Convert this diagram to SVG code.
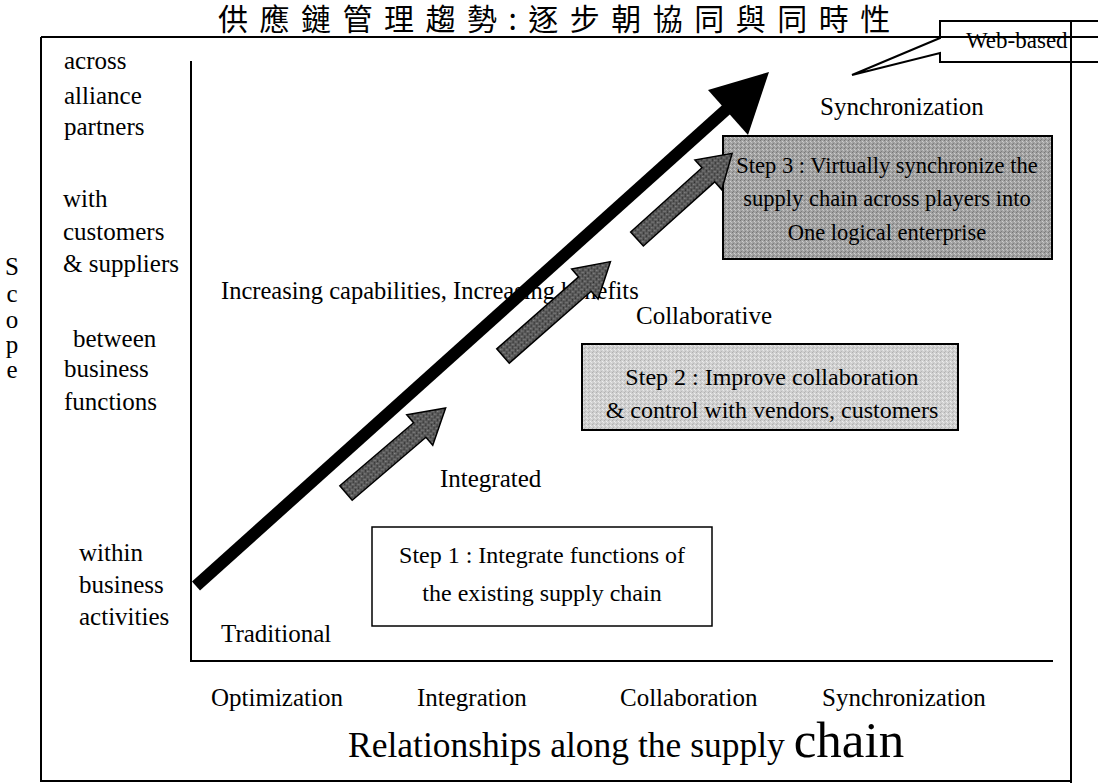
<svg xmlns="http://www.w3.org/2000/svg" width="1098" height="783" viewBox="0 0 1098 783">
<style>
.t{font-family:"Liberation Serif","Times New Roman",serif;font-size:25px;fill:#000}
.b{font-size:24px}
.s3{font-size:22.5px}
.ln{fill:none;stroke:#000;stroke-width:2}
.garrow{stroke:#000;stroke-width:1.5;fill:url(#dk)}
</style>
<defs>
<pattern id="dk" width="4" height="4" patternUnits="userSpaceOnUse">
<rect width="4" height="4" fill="#5a5a5a"/>
<rect x="0" y="0" width="1" height="1" fill="#2e2e2e"/>
<rect x="2" y="1" width="1" height="1" fill="#8a8a8a"/>
<rect x="1" y="3" width="1" height="1" fill="#333"/>
<rect x="3" y="2" width="1" height="1" fill="#7a7a7a"/>
</pattern>
<pattern id="md" width="4" height="4" patternUnits="userSpaceOnUse">
<rect width="4" height="4" fill="#a2a2a2"/>
<rect x="0" y="0" width="1" height="1" fill="#777"/>
<rect x="2" y="1" width="1" height="1" fill="#cfcfcf"/>
<rect x="1" y="3" width="1" height="1" fill="#7f7f7f"/>
<rect x="3" y="2" width="1" height="1" fill="#c4c4c4"/>
</pattern>
<pattern id="lt" width="4" height="4" patternUnits="userSpaceOnUse">
<rect width="4" height="4" fill="#d0d0d0"/>
<rect x="0" y="0" width="1" height="1" fill="#b0b0b0"/>
<rect x="2" y="1" width="1" height="1" fill="#efefef"/>
<rect x="1" y="3" width="1" height="1" fill="#b8b8b8"/>
<rect x="3" y="2" width="1" height="1" fill="#e8e8e8"/>
</pattern>
</defs>
<rect width="1098" height="783" fill="#fff"/>

<text id="title" x="218" y="30" style="font-family:'Noto Sans CJK TC','Noto Sans CJK SC',sans-serif;font-size:30px;letter-spacing:11.5px;fill:#000">供應鏈管理趨勢:逐步朝協同與同時性</text>

<g id="frame">
<path class="ln" d="M41,37 H1098 M41,37 V781 H1071 M1071,22 V783"/>
<path class="ln" d="M191,61 V661 H1053"/>
</g>

<g id="callout-webbased">
<path class="ln" d="M1098,21 H940 V38 L852,75 L940,53 V62 H1098"/>
<text class="t" x="966" y="48" style="font-size:23px">Web-based</text>
</g>

<g id="scope-axis">
<text class="t" x="12" y="275" text-anchor="middle">S</text>
<text class="t" x="12" y="302" text-anchor="middle">c</text>
<text class="t" x="12" y="328" text-anchor="middle">o</text>
<text class="t" x="12" y="353" text-anchor="middle">p</text>
<text class="t" x="12" y="378" text-anchor="middle">e</text>
</g>

<g id="y-labels">
<text class="t" x="64" y="69">across</text>
<text class="t" x="64" y="104">alliance</text>
<text class="t" x="64" y="135">partners</text>
<text class="t" x="63" y="207">with</text>
<text class="t" x="63" y="240">customers</text>
<text class="t" x="63" y="272">&amp; suppliers</text>
<text class="t" x="73" y="347">between</text>
<text class="t" x="64" y="377">business</text>
<text class="t" x="64" y="410">functions</text>
<text class="t" x="79" y="561">within</text>
<text class="t" x="79" y="593">business</text>
<text class="t" x="79" y="625">activities</text>
</g>

<g id="x-labels">
<text class="t" x="211" y="706">Optimization</text>
<text class="t" x="417" y="706">Integration</text>
<text class="t" x="620" y="706">Collaboration</text>
<text class="t" x="822" y="706">Synchronization</text>
<text class="t" x="348" y="757" style="font-size:35.5px">Relationships along the supply <tspan style="font-size:51px">chain</tspan></text>
</g>

<g id="stage-labels">
<text class="t" x="221" y="642">Traditional</text>
<text class="t" x="440" y="487">Integrated</text>
<text class="t" x="636" y="324">Collaborative</text>
<text class="t" x="820" y="115">Synchronization</text>
<text class="t" x="221" y="299" style="font-size:24.5px">Increasing capabilities, Increasing benefits</text>
</g>

<g id="step1">
<rect x="372" y="527" width="340" height="99" fill="#fff" stroke="#000" stroke-width="1.5"/>
<text class="t b" x="542" y="563" text-anchor="middle">Step 1 : Integrate functions of</text>
<text class="t b" x="542" y="601" text-anchor="middle">the existing supply chain</text>
</g>

<g id="step2">
<rect x="582" y="344" width="376" height="86" fill="url(#lt)" stroke="#000" stroke-width="2"/>
<text class="t b" x="772" y="385" text-anchor="middle">Step 2 : Improve collaboration</text>
<text class="t b" x="772" y="418" text-anchor="middle">&amp; control with vendors, customers</text>
</g>

<g id="step3">
<rect x="723" y="136" width="329" height="123" fill="url(#md)" stroke="#000" stroke-width="2"/>
<text class="t s3" x="887" y="173" text-anchor="middle">Step 3 : Virtually synchronize the</text>
<text class="t s3" x="887" y="206" text-anchor="middle">supply chain across players into</text>
<text class="t s3" x="887" y="240" text-anchor="middle">One logical enterprise</text>
</g>

<g id="connectors">
<line x1="196" y1="586" x2="728" y2="108" stroke="#000" stroke-width="12"/>
<polygon points="769,72 748,135 708,90" fill="#000"/>
<polygon class="garrow" transform="translate(346,493) rotate(-40.5)" points="0,-9.5 97,-9.5 97,-20 131,0 97,20 97,9.5 0,9.5"/>
<polygon class="garrow" transform="translate(503,356) rotate(-41.3)" points="0,-9.5 109,-9.5 109,-20 143,0 109,20 109,9.5 0,9.5"/>
<polygon class="garrow" transform="translate(637,239) rotate(-42)" points="0,-9.5 96,-9.5 96,-20 128,0 96,20 96,9.5 0,9.5"/>
</g>
</svg>
